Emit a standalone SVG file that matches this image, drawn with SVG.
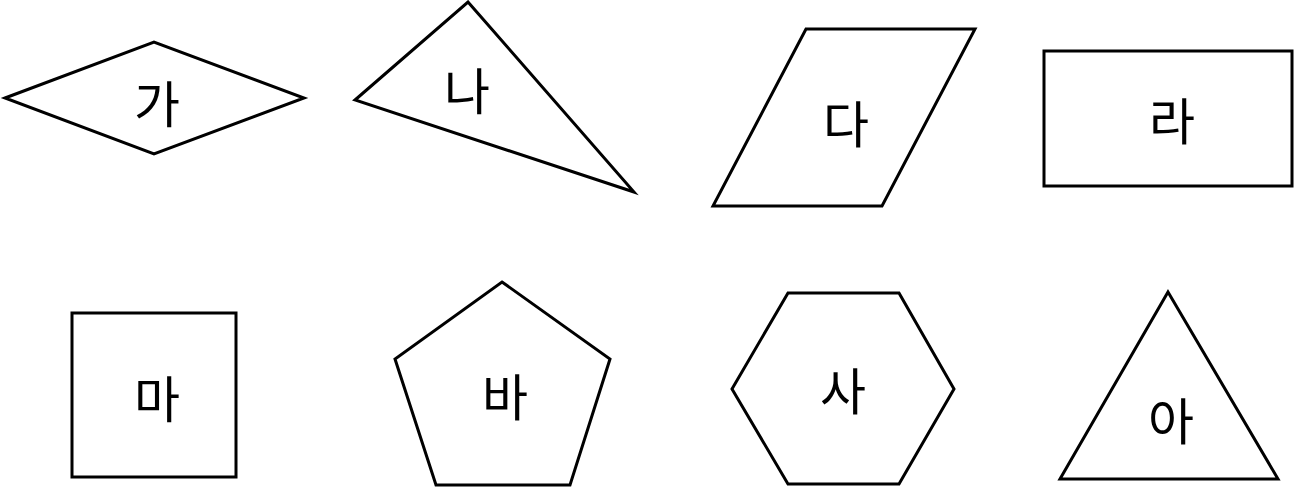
<svg xmlns="http://www.w3.org/2000/svg" width="1294" height="488" viewBox="0 0 1294 488">
<style>
.s{fill:#fff;stroke:#000;stroke-width:3;stroke-linejoin:miter}
.t{font-family:"Noto Sans CJK KR","Noto Sans CJK SC",sans-serif;font-size:50px;text-anchor:middle;fill:#000}
</style>
<rect width="1294" height="488" fill="#fff"/>
<g id="ga"><polygon class="s" points="5,98 154,42 304,98 154,154"/><text class="t" x="157" y="123">가</text></g>
<g id="na"><polygon class="s" points="355,100 468,2 634,192"/><text class="t" x="467" y="110">나</text></g>
<g id="da"><polygon class="s" points="806,29 975,29 882,206 713,206"/><text class="t" x="846" y="143">다</text></g>
<g id="ra"><rect class="s" x="1044" y="51" width="248" height="135"/><text class="t" x="1172" y="140">라</text></g>
<g id="ma"><rect class="s" x="72" y="313" width="164" height="164"/><text class="t" x="157" y="418">마</text></g>
<g id="ba"><polygon class="s" points="502,282 610,359 570,485 436,485 395,359"/><text class="t" x="505" y="416">바</text></g>
<g id="sa"><polygon class="s" points="788,293 899,293 954,389 899,484 788,484 732,389"/><text class="t" x="843" y="410">사</text></g>
<g id="a"><polygon class="s" points="1168,292 1278,479 1060,479"/><text class="t" x="1171" y="440">아</text></g>
<g id="connectors"></g>
</svg>
